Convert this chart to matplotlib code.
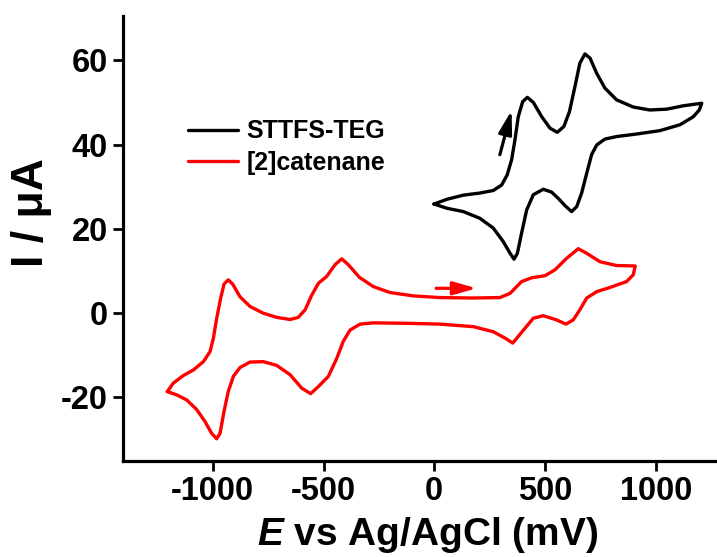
import matplotlib
matplotlib.use('Agg')
import matplotlib.pyplot as plt

# STTFS-TEG cyclic voltammogram (mV, uA): forward branch then return branch
teg_E = [-1, 56, 131, 206, 266, 304, 329, 349, 364, 379, 399, 420, 447, 485, 522, 555, 585,
         610, 635, 657, 680, 703, 733, 770, 823, 898, 973, 1049, 1124, 1207,
         1196, 1169, 1109, 1018, 913, 823, 770, 733, 710, 688, 665, 643, 620, 592, 560, 530,
         492, 447, 417, 394, 375, 360, 342, 311, 266, 206, 131, 56, -1]
teg_I = [25.9, 27.0, 28.0, 28.5, 29.1, 30.4, 32.8, 36.4, 41.1, 46.6, 50.2, 51.2, 50.0, 46.6,
         43.9, 42.9, 44.3, 47.8, 53.8, 59.3, 61.5, 60.5, 56.9, 53.4, 50.6, 48.9, 48.2, 48.4,
         49.2, 49.8,
         48.2, 46.6, 44.7, 43.3, 42.5, 41.9, 41.3, 39.9, 37.6, 33.2, 28.5, 25.3, 24.1, 25.4,
         27.2, 28.7, 29.4, 28.1, 24.5, 19.0, 14.2, 12.8, 14.2, 17.0, 20.2, 22.5, 24.1, 24.9, 25.9]

# [2]catenane cyclic voltammogram
cat_E = [-1205, -1178, -1133, -1088, -1042, -1012, -997, -982, -964, -949, -930, -910, -877,
         -832, -772, -711, -651, -614, -583, -553, -523, -486, -448, -418, -388, -338, -275,
         -200, -95, 26, 176, 296, 342, 394, 440, 500, 545, 597, 650, 688, 748, 823, 907,
         898, 868, 793, 733, 688, 657, 627, 594, 552, 492, 447, 409, 354, 319, 266, 176, 26,
         -125, -275, -335, -380, -411, -440, -478, -523, -558, -598, -651, -711, -772, -832,
         -877, -907, -930, -949, -967, -982, -1005, -1035, -1072, -1117, -1162, -1205]
cat_I = [-18.6, -16.6, -14.8, -13.5, -11.5, -9.1, -5.9, -1.2, 3.6, 6.9, 7.9, 6.9, 3.9,
         1.6, 0.0, -1.0, -1.5, -1.0, 0.8, 4.3, 7.1, 8.7, 11.5, 12.9, 11.5, 8.5, 6.3,
         4.9, 4.1, 3.7, 3.6, 3.7, 4.7, 7.5, 8.4, 8.9, 10.3, 13.0, 15.3, 14.2, 12.2, 11.3, 11.2,
         9.1, 7.5, 6.1, 5.1, 3.6, 0.8, -1.6, -2.6, -1.6, -0.6, -1.2, -3.6, -7.1, -5.9, -4.4,
         -3.2, -2.6, -2.4, -2.3, -2.6, -4.0, -6.7, -10.7, -15.0, -17.4, -19.1, -17.8, -14.6,
         -12.4, -11.5, -11.6, -12.9, -15.0, -18.6, -23.3, -28.5, -29.8, -28.5, -25.7, -22.9,
         -20.6, -19.4, -18.6]

labels = ['STTFS-TEG', '[2]catenane']
xticks = [-1000, -500, 0, 500, 1000]
yticks = [-20, 0, 20, 40, 60]

plt.rcParams['font.family'] = ['Liberation Sans', 'DejaVu Sans']
plt.rcParams['font.weight'] = 'bold'
plt.rcParams['axes.unicode_minus'] = False
plt.rcParams['mathtext.fontset'] = 'custom'
plt.rcParams['mathtext.it'] = 'Liberation Sans:italic:bold'
plt.rcParams['mathtext.rm'] = 'Liberation Sans:bold'

fig = plt.figure(figsize=(7.17, 5.57), dpi=100)
ax = fig.add_axes([123 / 717, 1 - 460.7 / 557, 594 / 717, 444.7 / 557])

ax.plot(teg_E, teg_I, color='black', lw=2.4, label=labels[0],
        solid_joinstyle='round', solid_capstyle='round')
ax.plot(cat_E, cat_I, color='#ff0000', lw=2.4, label=labels[1],
        solid_joinstyle='round', solid_capstyle='round')

# scan direction arrows
head = '-|>,head_length=1.4,head_width=0.4'
ax.annotate('', xy=(191, 5.9), xytext=(8, 5.9),
            arrowprops=dict(arrowstyle=head, color='#ff0000', lw=2.3,
                            shrinkA=0, shrinkB=0, mutation_scale=10))
ax.annotate('', xy=(349, 48.1), xytext=(296, 37.6),
            arrowprops=dict(arrowstyle=head, color='black', lw=2.3,
                            shrinkA=0, shrinkB=0, mutation_scale=10))

ax.set_xlim(-1405, 1276)
ax.set_ylim(-35, 70.5)
ax.set_xticks(xticks)
ax.set_yticks(yticks)
ax.tick_params(direction='out', length=7, width=2, labelsize=23.5, pad=4)
for lab in ax.get_xticklabels() + ax.get_yticklabels():
    lab.set_fontweight('bold')

ax.spines['top'].set_visible(False)
ax.spines['right'].set_visible(False)
ax.spines['left'].set_linewidth(2.3)
ax.spines['bottom'].set_linewidth(2.3)

ax.set_xlabel('$E$ vs Ag/AgCl (mV)', fontsize=28, fontweight='bold')
ax.xaxis.set_label_coords(0.513, -0.122)
ax.set_ylabel('I / \u03bcA', fontsize=32, fontweight='bold')
ax.yaxis.set_label_coords(-0.119, 0.557)

leg = ax.legend(loc='upper left', bbox_to_anchor=(175 / 717, 1 - 107 / 557),
                bbox_transform=fig.transFigure, frameon=False, fontsize=18,
                handlelength=2.0, handletextpad=0.35, labelspacing=0.3, borderpad=0)
for t in leg.get_texts():
    t.set_fontweight('bold')

fig.savefig('out.png', dpi=100)
